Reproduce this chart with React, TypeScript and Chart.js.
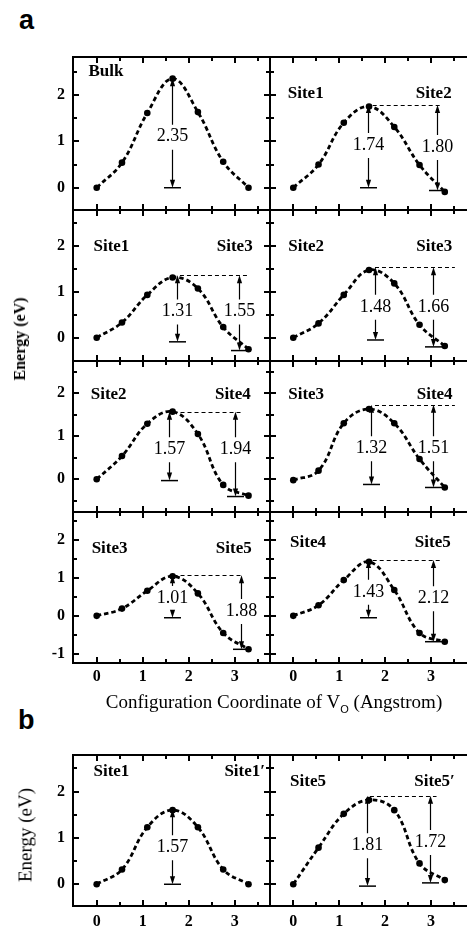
import React, { useEffect, useRef } from 'react';
import { Chart, registerables } from 'chart.js';

Chart.register(...registerables);

// ---- data ----
const coords = [0, 0.55, 1.1, 1.65, 2.2, 2.75, 3.3];

const energyBulk = [0, 0.54, 1.61, 2.35, 1.63, 0.56, 0];
const energySite1Site2 = [0, 0.5, 1.4, 1.75, 1.31, 0.49, -0.09];
const energySite1Site3 = [0, 0.33, 0.93, 1.31, 1.07, 0.23, -0.25];
const energySite2Site3 = [0, 0.31, 0.93, 1.47, 1.18, 0.28, -0.18];
const energySite2Site4 = [0, 0.54, 1.29, 1.57, 1.05, -0.13, -0.38];
const energySite3Site4 = [-0.02, 0.2, 1.3, 1.63, 1.3, 0.47, -0.19];
const energySite3Site5 = [0, 0.19, 0.66, 1.04, 0.59, -0.45, -0.88];
const energySite4Site5 = [0, 0.28, 0.94, 1.42, 0.68, -0.45, -0.68];
const energySite1Site1p = [0, 0.32, 1.23, 1.6, 1.23, 0.32, 0];
const energySite5Site5p = [0, 0.79, 1.52, 1.82, 1.6, 0.45, 0.09];

const xTickLabels = ['0', '1', '2', '3'];
const yTickLabels = ['-1', '0', '1', '2'];

// barrier arrows: [x, top energy, bottom energy, label, label energy]
type Arrow = [number, number, number, string, number];
// site tags: [text, x, energy, align]
type Tag = [string, number, number, CanvasTextAlign];

const arrowsBulk: Arrow[] = [[1.63, 2.36, 0, '2.35', 1.1]];
const arrowsS1S2: Arrow[] = [[1.63, 1.78, 0, '1.74', 0.92], [3.12, 1.78, -0.06, '1.80', 0.88]];
const arrowsS1S3: Arrow[] = [[1.74, 1.36, -0.09, '1.31', 0.57], [3.1, 1.36, -0.28, '1.55', 0.57]];
const arrowsS2S3: Arrow[] = [[1.78, 1.53, -0.05, '1.48', 0.67], [3.05, 1.53, -0.2, '1.66', 0.67]];
const arrowsS2S4: Arrow[] = [[1.58, 1.57, -0.03, '1.57', 0.7], [3.0, 1.57, -0.4, '1.94', 0.7]];
const arrowsS3S4: Arrow[] = [[1.7, 1.73, -0.12, '1.32', 0.72], [3.05, 1.73, -0.19, '1.51', 0.72]];
const arrowsS3S5: Arrow[] = [[1.64, 1.07, -0.05, '1.01', 0.47], [3.13, 1.07, -0.88, '1.88', 0.13]];
const arrowsS4S5: Arrow[] = [[1.63, 1.47, -0.05, '1.43', 0.63], [3.05, 1.47, -0.68, '2.12', 0.46]];
const arrowsS1S1p: Arrow[] = [[1.64, 1.62, 0, '1.57', 0.8]];
const arrowsS5S5p: Arrow[] = [[1.6, 1.91, -0.04, '1.81', 0.84], [2.98, 1.91, 0.03, '1.72', 0.91]];

// ---- layout ----
const colRects = [[73, 270], [270, 476]];
const rowRects = [[57, 210], [210, 361], [361, 512], [512, 663], [755, 906]];
const xRanges = [[-0.515, 3.767], [-0.507, 3.98]];
const yRanges = [[-0.48, 2.817], [-0.507, 2.776], [-0.759, 2.745], [-1.24, 2.73], [-0.469, 2.79]];

interface PanelSpec {
  col: number;
  row: number;
  energies: number[];
  tags: Tag[];
  arrows: Arrow[];
  dash: [number, number, number] | null;
}

const panels: PanelSpec[] = [
  { col: 0, row: 0, energies: energyBulk, tags: [['Bulk', -0.18, 2.5, 'left']], arrows: arrowsBulk, dash: null },
  { col: 1, row: 0, energies: energySite1Site2, tags: [['Site1', -0.12, 2.03, 'left'], ['Site2', 3.45, 2.03, 'right']], arrows: arrowsS1S2, dash: [1.73, 3.22, 1.78] },
  { col: 0, row: 1, energies: energySite1Site3, tags: [['Site1', -0.07, 1.97, 'left'], ['Site3', 3.39, 1.97, 'right']], arrows: arrowsS1S3, dash: [1.81, 3.32, 1.36] },
  { col: 1, row: 1, energies: energySite2Site3, tags: [['Site2', -0.11, 1.97, 'left'], ['Site3', 3.46, 1.97, 'right']], arrows: arrowsS2S3, dash: [1.78, 3.52, 1.53] },
  { col: 0, row: 2, energies: energySite2Site4, tags: [['Site2', -0.13, 1.96, 'left'], ['Site4', 3.35, 1.96, 'right']], arrows: arrowsS2S4, dash: [1.67, 3.15, 1.57] },
  { col: 1, row: 2, energies: energySite3Site4, tags: [['Site3', -0.11, 1.96, 'left'], ['Site4', 3.47, 1.96, 'right']], arrows: arrowsS3S4, dash: [1.78, 3.52, 1.73] },
  { col: 0, row: 3, energies: energySite3Site5, tags: [['Site3', -0.11, 1.77, 'left'], ['Site5', 3.37, 1.77, 'right']], arrows: arrowsS3S5, dash: [1.67, 3.19, 1.07] },
  { col: 1, row: 3, energies: energySite4Site5, tags: [['Site4', -0.07, 1.92, 'left'], ['Site5', 3.43, 1.92, 'right']], arrows: arrowsS4S5, dash: [1.73, 3.25, 1.47] },
  { col: 0, row: 4, energies: energySite1Site1p, tags: [['Site1', -0.07, 2.43, 'left'], ['Site1\u2032', 3.66, 2.43, 'right']], arrows: arrowsS1S1p, dash: null },
  { col: 1, row: 4, energies: energySite5Site5p, tags: [['Site5', -0.07, 2.22, 'left'], ['Site5\u2032', 3.52, 2.22, 'right']], arrows: arrowsS5S5p, dash: [1.67, 3.12, 1.91] },
];

const SERIF = '"Liberation Serif", "Times New Roman", serif';
const Y_AXIS_W = 45;
const X_AXIS_H = 30;
const PAD = 4;

function isMultiple(v: number, s: number) {
  return Math.abs(v / s - Math.round(v / s)) < 1e-6;
}

function makeDecor(spec: PanelSpec) {
  return {
    id: 'decor',
    afterDatasetsDraw(chart: any) {
      const ctx: CanvasRenderingContext2D = chart.ctx;
      const xs = chart.scales.x;
      const ys = chart.scales.y;
      ctx.save();
      ctx.strokeStyle = '#000';
      ctx.fillStyle = '#000';
      if (spec.dash) {
        const [x1, x2, y] = spec.dash;
        const py = Math.round(ys.getPixelForValue(y)) + 0.5;
        ctx.setLineDash([4, 3]);
        ctx.lineWidth = 1;
        ctx.beginPath();
        ctx.moveTo(xs.getPixelForValue(x1), py);
        ctx.lineTo(xs.getPixelForValue(x2), py);
        ctx.stroke();
        ctx.setLineDash([]);
      }
      for (const [x, top, bot, label, ly] of spec.arrows) {
        const px = Math.round(xs.getPixelForValue(x)) + 0.5;
        const pt = ys.getPixelForValue(top);
        const pb = ys.getPixelForValue(bot);
        const pl = ys.getPixelForValue(ly);
        const head = 7;
        const hw = 2.6;
        ctx.lineWidth = 1.2;
        ctx.beginPath();
        if (pl - 12 > pt + head) {
          ctx.moveTo(px, pt + head);
          ctx.lineTo(px, pl - 12);
        }
        if (pb - head > pl + 13) {
          ctx.moveTo(px, pl + 13);
          ctx.lineTo(px, pb - head);
        }
        ctx.stroke();
        ctx.beginPath();
        ctx.moveTo(px, pt);
        ctx.lineTo(px - hw, pt + head + 1);
        ctx.lineTo(px + hw, pt + head + 1);
        ctx.closePath();
        ctx.fill();
        ctx.beginPath();
        ctx.moveTo(px, pb);
        ctx.lineTo(px - hw, pb - head - 1);
        ctx.lineTo(px + hw, pb - head - 1);
        ctx.closePath();
        ctx.fill();
        ctx.lineWidth = 1.5;
        ctx.beginPath();
        ctx.moveTo(px - 8.5, pb);
        ctx.lineTo(px + 8.5, pb);
        ctx.stroke();
        ctx.font = '18px ' + SERIF;
        ctx.textAlign = 'center';
        ctx.textBaseline = 'middle';
        ctx.fillText(label, px, pl);
      }
      for (const [text, x, y, align] of spec.tags) {
        ctx.font = 'bold 17px ' + SERIF;
        ctx.textAlign = align;
        ctx.textBaseline = 'middle';
        ctx.fillText(text, xs.getPixelForValue(x), ys.getPixelForValue(y));
      }
      ctx.restore();
    },
    afterDraw(chart: any) {
      const ctx: CanvasRenderingContext2D = chart.ctx;
      const xs = chart.scales.x;
      const ys = chart.scales.y;
      const { left, right, top, bottom } = chart.chartArea;
      ctx.save();
      ctx.strokeStyle = '#000';
      ctx.lineWidth = 2;
      ctx.beginPath();
      for (let v = Math.ceil(xs.min / 0.5) * 0.5; v < xs.max; v += 0.5) {
        if (v <= xs.min + 0.05 || v >= xs.max - 0.05) continue;
        const len = isMultiple(v, 1) ? 6 : 4;
        const p = Math.round(xs.getPixelForValue(v));
        ctx.moveTo(p, bottom);
        ctx.lineTo(p, bottom - len);
        ctx.moveTo(p, top);
        ctx.lineTo(p, top + len);
      }
      for (let v = Math.ceil(ys.min / 0.5) * 0.5; v < ys.max; v += 0.5) {
        if (v <= ys.min + 0.05 || v >= ys.max - 0.05) continue;
        const len = isMultiple(v, 1) ? 6 : 4;
        const p = Math.round(ys.getPixelForValue(v));
        ctx.moveTo(left, p);
        ctx.lineTo(left + len, p);
        ctx.moveTo(right, p);
        ctx.lineTo(right - len, p);
      }
      ctx.stroke();
      ctx.strokeRect(left, top, right - left, bottom - top);
      ctx.restore();
    },
  };
}

function geometry(spec: PanelSpec) {
  const [l, r] = colRects[spec.col];
  const [t, b] = rowRects[spec.row];
  const showY = spec.col === 0;
  const showX = spec.row === 3 || spec.row === 4;
  const padL = showY ? Y_AXIS_W : PAD;
  const padB = showX ? X_AXIS_H : PAD;
  return {
    left: l - padL,
    top: t - PAD,
    width: r - l + padL + PAD,
    height: b - t + PAD + padB,
    showX,
    showY,
  };
}

function Panel({ spec }: { spec: PanelSpec }) {
  const ref = useRef<HTMLCanvasElement>(null);
  const g = geometry(spec);
  useEffect(() => {
    const canvas = ref.current;
    if (!canvas) return;
    const [xmin, xmax] = xRanges[spec.col];
    const [ymin, ymax] = yRanges[spec.row];
    const tickFont = { family: SERIF, size: 16, weight: 'bold' as const };
    const chart = new Chart(canvas, {
      type: 'line',
      data: {
        datasets: [
          {
            data: coords.map((x, i) => ({ x, y: spec.energies[i] })),
            borderColor: '#000',
            backgroundColor: '#000',
            borderWidth: 2.8,
            borderDash: [4.5, 3],
            pointRadius: 3.3,
            pointBackgroundColor: '#000',
            pointBorderWidth: 0,
            tension: 0.4,
            fill: false,
          },
        ],
      },
      options: {
        animation: false,
        responsive: false,
        maintainAspectRatio: false,
        devicePixelRatio: 1,
        layout: {
          padding: {
            left: g.showY ? 0 : PAD,
            top: PAD,
            right: PAD,
            bottom: g.showX ? 0 : PAD,
          },
        },
        plugins: { legend: { display: false }, tooltip: { enabled: false } },
        scales: {
          x: {
            type: 'linear',
            min: xmin,
            max: xmax,
            display: g.showX,
            grid: { display: false, drawTicks: false },
            border: { display: false },
            ticks: {
              stepSize: 1,
              includeBounds: false,
              autoSkip: false,
              maxRotation: 0,
              padding: spec.row === 4 ? 6 : 4,
              color: '#000',
              font: tickFont,
              callback: (v: any) => {
                const n = Number(v);
                const s = String(Math.round(n));
                return isMultiple(n, 1) && xTickLabels.includes(s) ? s : '';
              },
            },
            afterFit: (s: any) => {
              if (!g.showX) return;
              s.height = X_AXIS_H;
              s.paddingLeft = 0;
              s.paddingRight = 0;
            },
          },
          y: {
            type: 'linear',
            min: ymin,
            max: ymax,
            display: g.showY,
            grid: { display: false, drawTicks: false },
            border: { display: false },
            ticks: {
              stepSize: 1,
              includeBounds: false,
              autoSkip: false,
              padding: 8,
              color: '#000',
              font: tickFont,
              callback: (v: any) => {
                const n = Number(v);
                const s = String(Math.round(n));
                return isMultiple(n, 1) && yTickLabels.includes(s) ? s : '';
              },
            },
            afterFit: (s: any) => {
              if (!g.showY) return;
              s.width = Y_AXIS_W;
              s.paddingTop = 0;
              s.paddingBottom = 0;
            },
          },
        },
      },
      plugins: [makeDecor(spec)],
    } as any);
    return () => chart.destroy();
  }, []);
  return (
    <canvas
      ref={ref}
      width={g.width}
      height={g.height}
      style={{ position: 'absolute', left: g.left, top: g.top, width: g.width, height: g.height }}
    />
  );
}

export default function App() {
  return (
    <div
      style={{
        position: 'absolute',
        left: 0,
        top: 0,
        width: 467,
        height: 929,
        overflow: 'hidden',
        background: '#fff',
        color: '#000',
      }}
    >
      {panels.map((p, i) => (
        <Panel key={i} spec={p} />
      ))}
      <div style={{ position: 'absolute', left: 19, top: 7, font: 'bold 27px "Liberation Sans", Arial, sans-serif', lineHeight: 1 }}>a</div>
      <div style={{ position: 'absolute', left: 18, top: 707, font: 'bold 27px "Liberation Sans", Arial, sans-serif', lineHeight: 1 }}>b</div>
      <div
        style={{
          position: 'absolute',
          left: 20,
          top: 339,
          transform: 'translate(-50%, -50%) rotate(-90deg)',
          font: 'bold 16px ' + SERIF,
          lineHeight: 1,
          whiteSpace: 'nowrap',
        }}
      >
        Energy (eV)
      </div>
      <div
        style={{
          position: 'absolute',
          left: 25,
          top: 835,
          transform: 'translate(-50%, -50%) rotate(-90deg)',
          font: '19px ' + SERIF,
          lineHeight: 1,
          whiteSpace: 'nowrap',
        }}
      >
        Energy (eV)
      </div>
      <div
        style={{
          position: 'absolute',
          left: 0,
          width: 548,
          top: 692,
          textAlign: 'center',
          font: '19px ' + SERIF,
          lineHeight: 1,
          whiteSpace: 'nowrap',
        }}
      >
        Configuration Coordinate of V
        <span style={{ fontSize: 11, fontFamily: '"Liberation Sans", Arial, sans-serif', position: 'relative', top: 5 }}>O</span> (Angstrom)
      </div>
    </div>
  );
}
